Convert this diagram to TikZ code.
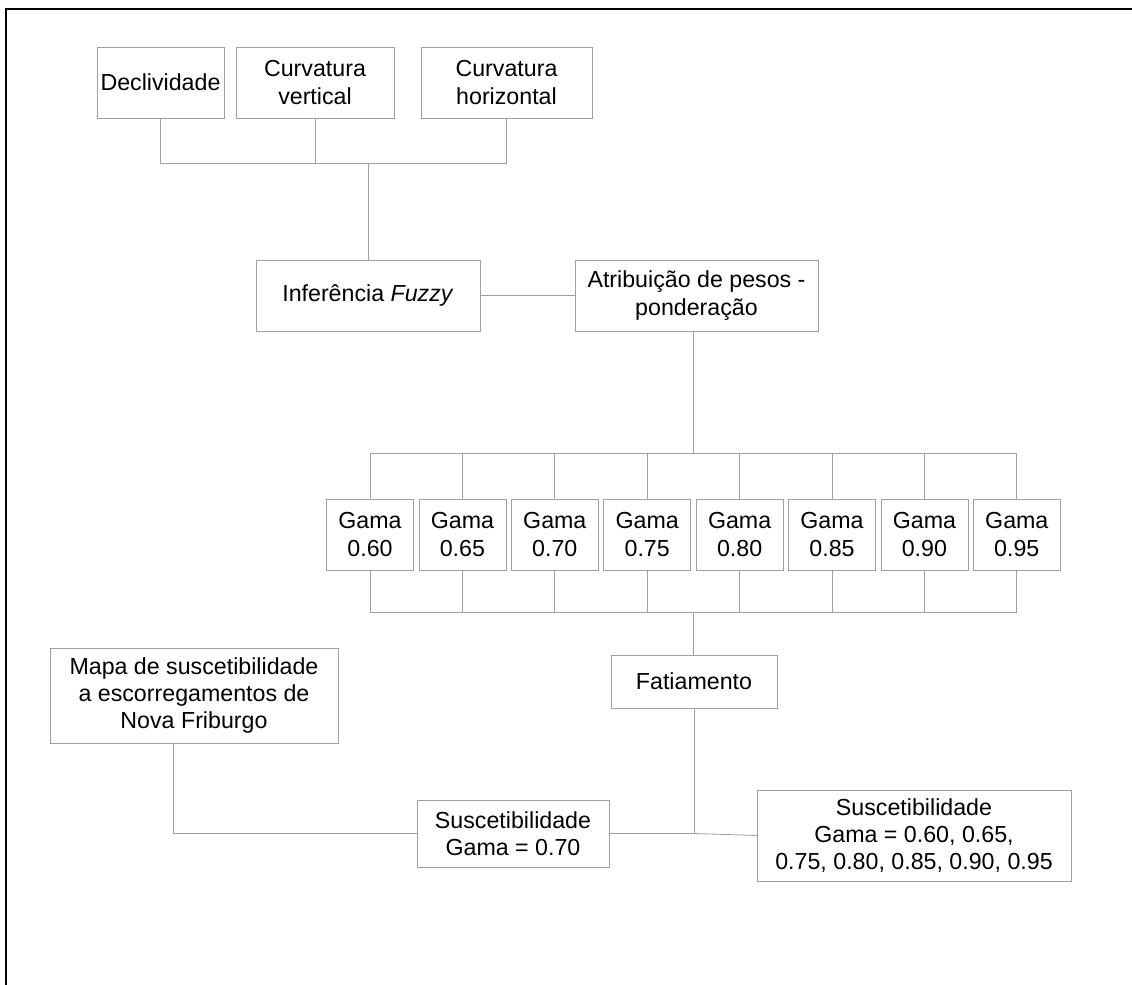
\documentclass[tikz,border=0pt]{standalone}
\usepackage{fontspec}
\setmainfont{Liberation Sans}
\usepackage{tikz}
\usetikzlibrary{positioning}

\definecolor{linegray}{RGB}{160,160,160}

\begin{document}
\begin{tikzpicture}[
            x = 0.025cm,
            y = -0.025cm,
            box/.style = {
                draw = linegray,
                align = center,
                inner sep = 0pt,
                outer sep = 0pt,
                minimum width = #1*0.025cm,
                minimum height = 71*0.025cm,
                font = \fontsize{16.5}{19.5}\selectfont
            },
            box/.default = 87,
            link/.style = {draw = linegray, line width = 0.6pt}
            ]
            \useasboundingbox (0,0) rectangle (1132,985);
            \draw[line width = 1.4pt] (6,985) -- (6,9) -- (1132,9);

            % inputs
            \node[box=127] (decl) at (160.5,82.5) {Declividade};
            \node[box=158] (cvert) at (315,82.5) {Curvatura\\vertical};
            \node[box=171] (choriz) at (506.5,82.5) {Curvatura\\horizontal};

            \node[box=224] (fuzzy) at (368,295.5) {Inferência \textit{Fuzzy}};
            \node[box=243] (pesos) at (696.5,295.5) {Atribuição de pesos -\\ponderação};

            \coordinate (bus1) at (368,163);
            \draw[link] (decl.south) |- (bus1);
            \draw[link] (cvert.south) -- (cvert.south |- bus1);
            \draw[link] (choriz.south) |- (bus1);
            \draw[link] (bus1) -- (fuzzy.north);
            \draw[link] (fuzzy.east) -- (pesos.west);

            % gama values
            \foreach \g [count=\i from 0] in {0.60,0.65,0.70,0.75,0.80,0.85,0.90,0.95} {
                \node[box] (g\i) at (370+92.4*\i,534.5) {Gama\\\g};
                \draw[link] (g\i.north) -- ++(0,-46);
                \draw[link] (g\i.south) -- ++(0,42);
            }
            \coordinate (bus2) at (693,453);
            \coordinate (bus3) at (693,612);
            \draw[link] (g0.north |- bus2) -- (g7.north |- bus2);
            \draw[link] (g0.south |- bus3) -- (g7.south |- bus3);
            \draw[link] (bus2 |- pesos.south) -- (bus2);

            % results
            \node[box=166, minimum height=53*0.025cm] (fatia) at (694,681.5) {Fatiamento};
            \node[box=288, minimum height=95*0.025cm] (mapa) at (194,695.5) {Mapa de suscetibilidade\\a escorregamentos de\\Nova Friburgo};
            \node[box=192, minimum height=67*0.025cm] (s070) at (513,833.5) {Suscetibilidade\\Gama = 0.70};
            \node[box=314, minimum height=91*0.025cm] (smulti) at (914,835.5) {Suscetibilidade\\Gama = 0.60, 0.65,\\0.75, 0.80, 0.85, 0.90, 0.95};

            \draw[link] (bus3) -- (bus3 |- fatia.north);
            \coordinate (join) at (fatia.south |- s070.east);
            \draw[link] (fatia.south) -- (join);
            \draw[link] (s070.east) -- (join) -- (smulti.west);
            \draw[link] (mapa.south -| 173,0) |- (s070.west);
\end{tikzpicture}
\end{document}
